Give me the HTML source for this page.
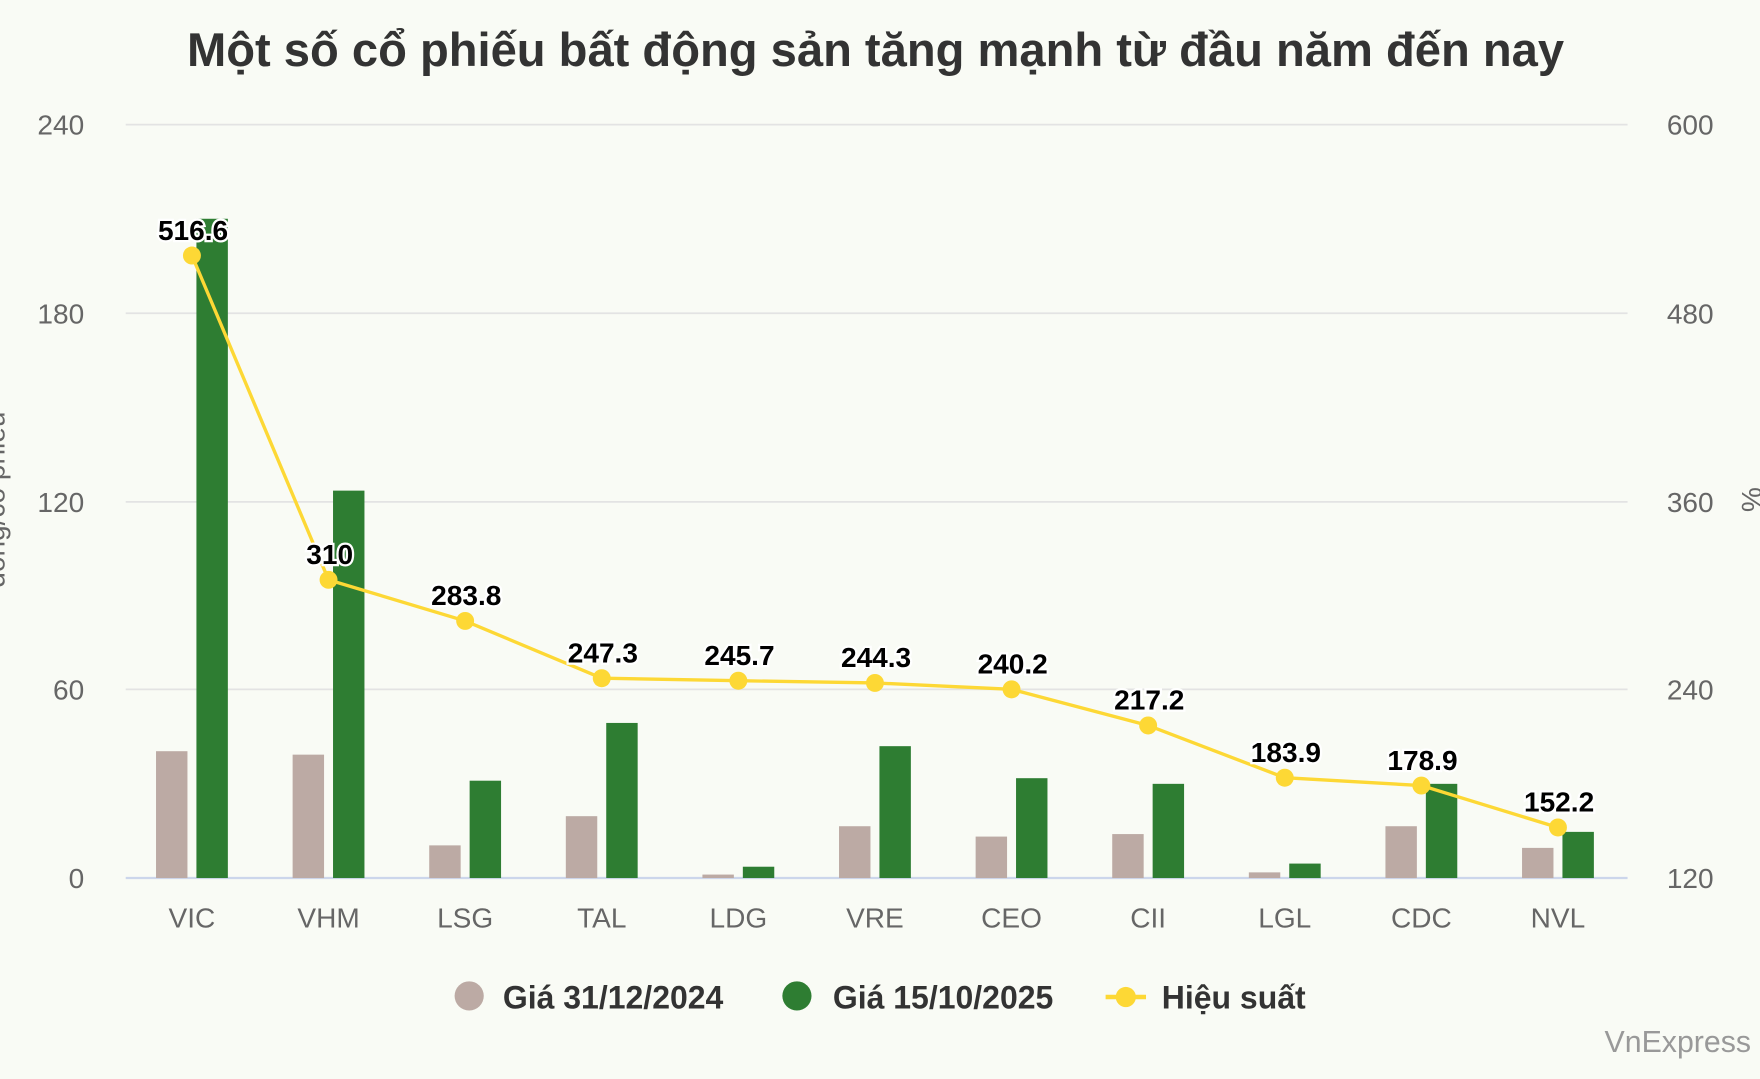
<!DOCTYPE html>
<html><head><meta charset="utf-8"><style>
html,body{margin:0;padding:0;background:#f9fbf5;}
svg{display:block;font-family:"Liberation Sans",sans-serif;}
</style></head><body>
<svg width="1760" height="1079" viewBox="0 0 1568 961" preserveAspectRatio="none">
<rect width="1568" height="961" fill="#f9fbf5"/>
<text x="780" y="59" text-anchor="middle" font-size="42" font-weight="bold" fill="#333">Một số cổ phiếu bất động sản tăng mạnh từ đầu năm đến nay</text>
<g stroke="#e3e3e3" stroke-width="1.5">
<line x1="112" x2="1450" y1="111" y2="111"/>
<line x1="112" x2="1450" y1="279" y2="279"/>
<line x1="112" x2="1450" y1="447" y2="447"/>
<line x1="112" x2="1450" y1="614" y2="614"/>
</g>
<line x1="112" x2="1450" y1="782" y2="782" stroke="#ccd6eb" stroke-width="2"/>
<g font-size="25" fill="#666" text-anchor="end">
<text x="75" y="120">240</text><text x="75" y="288">180</text><text x="75" y="456">120</text><text x="75" y="623">60</text><text x="75" y="791">0</text>
</g>
<g font-size="25" fill="#666" text-anchor="start">
<text x="1485" y="120">600</text><text x="1485" y="288">480</text><text x="1485" y="456">360</text><text x="1485" y="623">240</text><text x="1485" y="791">120</text>
</g>
<text transform="translate(4,445) rotate(-90)" text-anchor="middle" font-size="25" fill="#666">đồng/cổ phiếu</text>
<text transform="translate(1552,445) rotate(90)" text-anchor="middle" font-size="25" fill="#666">%</text>
<script>
var cats=["VIC","VHM","LSG","TAL","LDG","VRE","CEO","CII","LGL","CDC","NVL"];
var g1=[40.4,39.3,10.4,19.7,1.1,16.5,13.2,14,1.8,16.5,9.6];
var g2=[210,123.4,31,49.4,3.6,42,31.8,30,4.6,30,14.7];
var p=[516.6,310,283.8,247.3,245.7,244.3,240.2,217.2,183.9,178.9,152.2];
var ns="http://www.w3.org/2000/svg",svg=document.querySelector("svg");
function el(t,a,txt){var e=document.createElementNS(ns,t);for(var k in a)e.setAttribute(k,a[k]);if(txt!=null)e.textContent=txt;svg.appendChild(e);return e;}
var pts=[];
for(var i=0;i<11;i++){
 var c=171+i*121.7;
 el("rect",{x:c-32,y:782-g1[i]*2.796,width:28,height:g1[i]*2.796,fill:"#bcaaa4"});
 el("rect",{x:c+4,y:782-g2[i]*2.796,width:28,height:g2[i]*2.796,fill:"#2e7d32"});
 el("text",{x:c,y:826,"text-anchor":"middle","font-size":25,fill:"#666"},cats[i]);
 pts.push([c,782-(p[i]-120)*671/480]);
}
el("polyline",{points:pts.map(function(q){return q.join(",")}).join(" "),fill:"none",stroke:"#fdd835","stroke-width":3});
for(var i=0;i<11;i++){
 el("circle",{cx:pts[i][0],cy:pts[i][1],r:8,fill:"#fdd835"});
 el("text",{x:pts[i][0]+1,y:pts[i][1]-14,"text-anchor":"middle","font-size":25,"font-weight":"bold",fill:"#000",stroke:"#fff","stroke-width":4,"paint-order":"stroke"},String(p[i]));
}
</script>
<circle cx="418" cy="887" r="13" fill="#bcaaa4"/>
<text x="448" y="898" font-size="28.5" font-weight="bold" fill="#333">Giá 31/12/2024</text>
<circle cx="710" cy="887" r="13" fill="#2e7d32"/>
<text x="742" y="898" font-size="28.5" font-weight="bold" fill="#333">Giá 15/10/2025</text>
<line x1="985" x2="1021" y1="888" y2="888" stroke="#fdd835" stroke-width="4"/>
<circle cx="1003" cy="888" r="9" fill="#fdd835"/>
<text x="1035" y="898" font-size="28.5" font-weight="bold" fill="#333">Hiệu suất</text>
<text x="1560" y="937" text-anchor="end" font-size="27" fill="#999">VnExpress</text>
</svg>
</body></html>
